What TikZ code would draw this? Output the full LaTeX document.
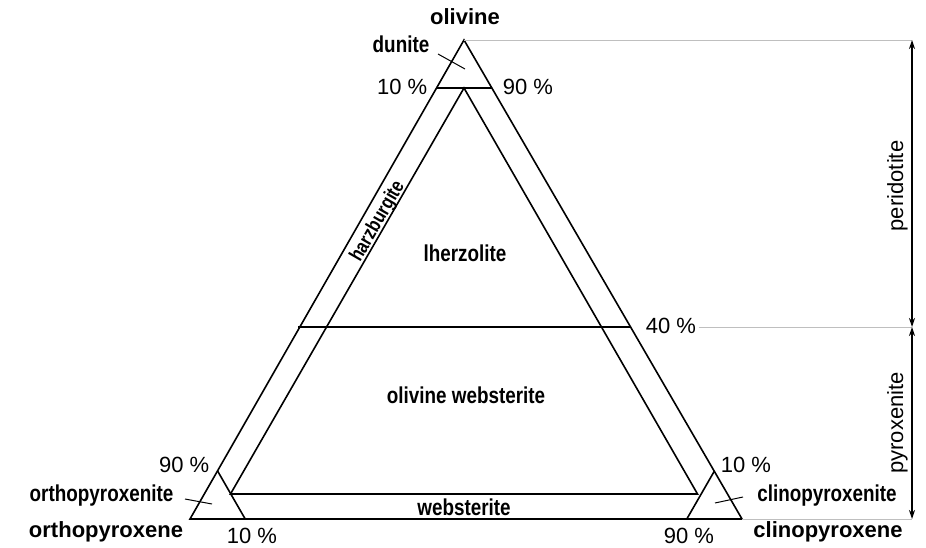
\documentclass[tikz,border=0pt]{standalone}
\usepackage{fontspec}
\setmainfont{Liberation Sans}
\newfontfamily\narrowsf[FakeStretch=0.82]{Liberation Sans}
\usetikzlibrary{arrows.meta}

\begin{document}
\begin{tikzpicture}
  [x=1pt,y=-1pt,line width=1.6pt,
   region/.style={font=\narrowsf\bfseries\fontsize{23}{26}\selectfont,inner sep=0pt},
   corner/.style={font=\bfseries\fontsize{22}{26}\selectfont,inner sep=0pt},
   pct/.style={font=\fontsize{22}{26}\selectfont,inner sep=0pt},
   guide/.style={gray!50,line width=0.8pt},
   dimline/.style={{Stealth[length=9pt,width=6pt]}-{Stealth[length=9pt,width=6pt]},line width=1.3pt}]
  \useasboundingbox (0,0) rectangle (926,548);
  % corners of the triangle
  \coordinate (ol)  at (464,40);
  \coordinate (opx) at (190,519);
  \coordinate (cpx) at (742,519);
  % 90 % and 40 % olivine
  \coordinate (dl) at (436,88);
  \coordinate (dr) at (492,88);
  \coordinate (fl) at (298,327);
  \coordinate (fr) at (630,327);
  % inner triangle
  \coordinate (ia) at (464,88);
  \coordinate (il) at (230.5,494);
  \coordinate (ir) at (697.5,494);
  % 90 % opx / cpx cuts
  \coordinate (ot) at (217.6,471);
  \coordinate (ob) at (245.2,519);
  \coordinate (ct) at (714.4,471);
  \coordinate (cb) at (686.8,519);
  % scale on the right
  \coordinate (stop) at (912,40);
  \coordinate (smid) at (912,327);
  \coordinate (sbot) at (912,519);
  % ends of the pointer lines
  \coordinate (dun1) at (438,54);
  \coordinate (dun2) at (465,69);
  \coordinate (opi1) at (185,499);
  \coordinate (opi2) at (212,504);
  \coordinate (cpi1) at (743,497);
  \coordinate (cpi2) at (715,503);

  \draw (ol) -- (opx) -- (cpx) -- cycle;
  \draw (ia) -- (il) -- (ir) -- cycle;
  \foreach \from/\to in {dl/dr,fl/fr,ot/ob,ct/cb}
    \draw (\from) -- (\to);
  \foreach \from/\to in {dun1/dun2,opi1/opi2,cpi1/cpi2}
    \draw[line width=1pt] (\from) -- (\to);

  % labels
  \node[corner,anchor=base] (olv) at (465,25) {olivine};
  \node[corner,anchor=base] (opxlab) at (106,537) {orthopyroxene};
  \node[corner,anchor=base] (cpxlab) at (828,537) {clinopyroxene};
  \node[region,anchor=base] (dun) at (401,53) {dunite};
  \node[region,anchor=base] (lherz) at (465,261) {lherzolite};
  \node[region,anchor=base] (olweb) at (466,403) {olivine websterite};
  \node[region,anchor=base] (web) at (464,515) {websterite};
  \node[region,anchor=base] (opxite) at (101.5,501) {orthopyroxenite};
  \node[region,anchor=base] (cpxite) at (827,501) {clinopyroxenite};
  \node[region,rotate=60,font=\narrowsf\bfseries\fontsize{20}{24}\selectfont] (harz) at (378,221.5) {harzburgite};
  \node[pct,anchor=base east] (p10a) at (428,95) {10 \%};
  \node[pct,anchor=base west] (p90a) at (502,95) {90 \%};
  \node[pct,anchor=base west] (p40) at (645,333) {40 \%};
  \node[pct,anchor=base east] (p90b) at (210,472) {90 \%};
  \node[pct,anchor=base west] (p10b) at (720,472) {10 \%};
  \node[pct,anchor=base] (p10c) at (252,543) {10 \%};
  \node[pct,anchor=base] (p90c) at (689,543) {90 \%};
  \node[pct,anchor=base,rotate=90] (perid) at (903,186) {peridotite};
  \node[pct,anchor=base,rotate=90] (pyrox) at (903,423) {pyroxenite};

  % guide lines and the scale
  \draw[guide] (ol) -- (stop);
  \draw[guide] ([xshift=2pt]p40.east |- smid) -- (smid);
  \draw[guide] (cpx) -- (sbot);
  \draw[dimline] (stop) -- (smid);
  \draw[dimline] (smid) -- (sbot);
\end{tikzpicture}
\end{document}
